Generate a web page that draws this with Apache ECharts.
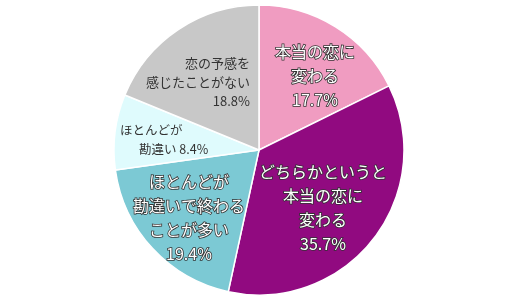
<!DOCTYPE html>
<html><head><meta charset="utf-8">
<script src="https://cdn.jsdelivr.net/npm/echarts@6/dist/echarts.min.js"></script>
<style>html,body{margin:0;padding:0;background:#fff}#c{width:530px;height:300px}</style>
</head><body><div id="c"></div>
<script>
var categories = ['本当の恋に\n変わる', 'どちらかというと\n本当の恋に\n変わる', 'ほとんどが\n勘違いで終わる\nことが多い', 'ほとんどが\n勘違い', '恋の予感を\n感じたことがない'];
var values = [17.7, 35.7, 19.4, 8.4, 18.8];
var colors = ['#F09CC1', '#910A80', '#7CC9D4', '#DFFBFD', '#C8C8C8'];
var labelPos = [
  {x: 315, y: 76, align: 'center'},
  {x: 323, y: 208, align: 'center'},
  {x: 189, y: 218, align: 'center'},
  {x: 120, y: 140, align: 'left'},
  {x: 250, y: 82, align: 'right'}
];
var fontF = '"Noto Sans CJK JP", sans-serif';
var whiteLabel = {color: '#fff', fontSize: 16, lineHeight: 24, textBorderColor: '#333', textBorderWidth: 1.6, fontFamily: fontF, align: 'center'};
var data = categories.map(function (c, i) {
  var d = {name: c, value: values[i], itemStyle: {color: colors[i]}};
  if (i < 3) {
    d.label = Object.assign({formatter: c + '\n' + values[i].toFixed(1) + '%'}, whiteLabel);
  } else if (i === 3) {
    d.label = {formatter: '{a|ほとんどが}\n{b|勘違い ' + values[i].toFixed(1) + '%}', color: '#333', fontFamily: fontF, align: 'left',
      rich: {a: {fontSize: 12.5, lineHeight: 19, color: '#333', fontFamily: fontF}, b: {fontSize: 12.5, lineHeight: 19, color: '#333', fontFamily: fontF, padding: [0, 0, 0, 19]}}};
  } else {
    d.label = {formatter: c + '\n' + values[i].toFixed(1) + '%', color: '#333', fontSize: 13, lineHeight: 19, fontFamily: fontF, align: 'right'};
  }
  return d;
});
var chart = echarts.init(document.getElementById('c'));
chart.setOption({
  animation: false,
  series: [{
    type: 'pie',
    center: [259, 150],
    radius: 145,
    startAngle: 90,
    clockwise: true,
    itemStyle: {borderColor: '#fff', borderWidth: 1.5},
    label: {show: true, position: 'inside'},
    labelLine: {show: false},
    labelLayout: function (p) {
      var lp = labelPos[p.dataIndex];
      return {x: lp.x, y: lp.y, align: lp.align, verticalAlign: 'middle'};
    },
    data: data
  }]
});
</script></body></html>
